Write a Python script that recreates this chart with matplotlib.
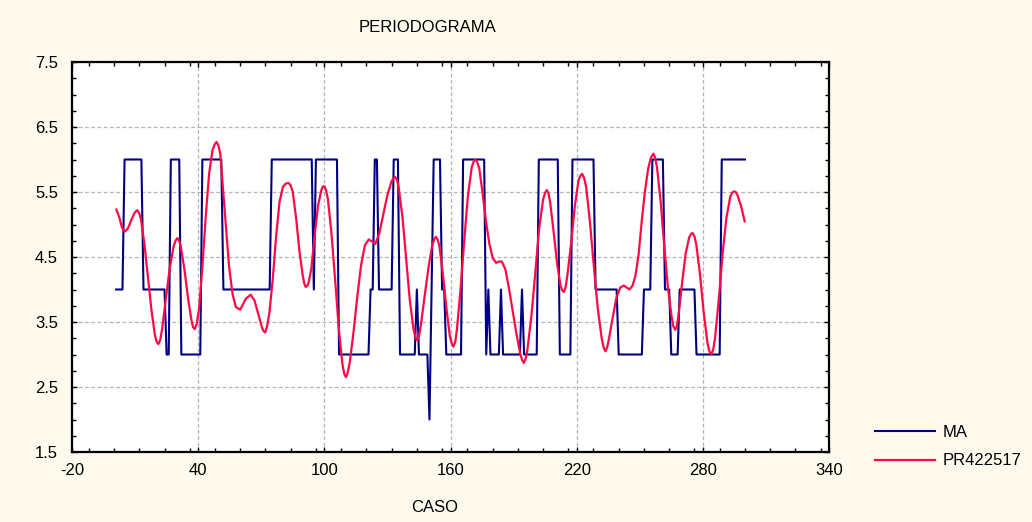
import numpy as np
import matplotlib
matplotlib.use("Agg")
import matplotlib.pyplot as plt
from matplotlib.ticker import MultipleLocator, FixedLocator

plt.rcParams["font.family"] = ["Liberation Sans", "DejaVu Sans"]
plt.rcParams["font.size"] = 12

# MA series: run-length encoded values per case (cases 1..300)
ma_levels = [4, 6, 4, 3, 6, 3, 6, 4, 6, 4, 6, 3, 4, 6, 4, 6, 3, 4, 3, 2, 4, 6, 4, 3,
             6, 3, 4, 3, 4, 3, 4, 3, 6, 3, 6, 4, 3, 4, 6, 4, 3, 4, 3, 6]
ma_counts = [4, 9, 11, 2, 5, 10, 10, 23, 20, 1, 11, 15, 2, 2, 7, 3, 8, 1, 5, 1, 1, 4, 2, 8,
             11, 1, 1, 5, 1, 9, 1, 7, 10, 6, 11, 11, 12, 4, 6, 3, 4, 8, 12, 12]

# PR422517 series: case positions and values
pr_case = [1.1, 2.4, 3.8, 5.1, 6.6, 8.1, 9.6, 10.3, 11.1, 11.9, 12.8, 14.4, 16.1, 17.8,
           19.4, 20.3, 21.1, 22.0, 22.9, 24.7, 26.5, 28.3, 29.2, 30.1, 31.0, 31.8, 33.5,
           35.2, 36.9, 37.6, 38.4, 39.4, 40.5, 42.0, 43.6, 45.2, 46.8, 47.8, 48.7, 49.6,
           50.5, 51.6, 53.2, 54.7, 56.3, 57.9, 60.0, 62.7, 65.0, 66.8, 68.6, 70.4, 71.1,
           71.9, 72.8, 73.9, 75.5, 77.1, 78.7, 80.3, 81.7, 83.0, 84.0, 85.0, 86.6, 88.2,
           89.7, 90.4, 91.1, 91.8, 92.5, 93.8, 95.4, 97.0, 98.5, 99.2, 100.0, 100.8,
           101.7, 103.4, 105.2, 106.9, 108.6, 109.5, 110.3, 111.1, 112.1, 113.9, 115.7,
           117.5, 119.3, 121.1, 122.6, 124.2, 126.1, 128.0, 129.9, 131.8, 132.8, 133.7,
           134.6, 135.4, 137.2, 138.9, 140.6, 142.4, 143.3, 144.1, 145.0, 145.9, 147.7,
           149.5, 151.3, 152.2, 153.1, 154.0, 154.8, 156.4, 158.1, 159.7, 160.6, 161.4,
           162.3, 163.1, 164.9, 166.6, 168.3, 170.1, 171.0, 171.8, 172.7, 173.7, 175.3,
           176.9, 178.5, 180.1, 181.7, 183.0, 184.4, 186.1, 187.9, 189.6, 191.3, 193.1,
           194.0, 194.8, 195.7, 196.6, 198.5, 200.3, 202.1, 204.0, 205.0, 205.8, 206.6,
           207.4, 209.0, 210.7, 212.3, 213.1, 213.9, 214.7, 215.6, 217.4, 219.1, 220.9,
           221.8, 222.6, 223.5, 224.5, 226.3, 228.2, 230.0, 231.9, 232.8, 233.7, 234.5,
           235.4, 237.2, 238.9, 240.7, 242.4, 243.8, 245.1, 246.6, 248.0, 249.5, 251.0,
           252.5, 254.0, 255.3, 256.5, 257.3, 258.2, 260.0, 261.7, 263.4, 265.2, 266.0,
           266.9, 267.7, 268.5, 270.2, 271.8, 273.5, 274.3, 275.1, 276.0, 276.9, 278.7,
           280.4, 282.2, 283.1, 284.0, 284.9, 285.8, 287.6, 289.4, 291.2, 293.0, 293.9,
           294.8, 295.6, 296.5, 298.2, 299.9]
pr_value = [5.23, 5.12, 4.95, 4.89, 4.94, 5.06, 5.17, 5.20, 5.22, 5.18, 5.08, 4.71, 4.19, 3.68,
            3.30, 3.19, 3.16, 3.23, 3.40, 3.88, 4.33, 4.66, 4.75, 4.79, 4.75, 4.65, 4.30,
            3.86, 3.51, 3.42, 3.39, 3.48, 3.73, 4.35, 5.12, 5.78, 6.14, 6.23, 6.27, 6.22,
            6.09, 5.63, 4.96, 4.35, 3.94, 3.73, 3.69, 3.86, 3.92, 3.83, 3.62, 3.41, 3.36,
            3.34, 3.44, 3.65, 4.17, 4.83, 5.35, 5.58, 5.63, 5.64, 5.60, 5.50, 5.09, 4.58,
            4.22, 4.10, 4.04, 4.05, 4.10, 4.32, 4.83, 5.29, 5.52, 5.58, 5.59, 5.53,
            5.39, 4.86, 4.12, 3.39, 2.85, 2.70, 2.65, 2.72, 2.88, 3.35, 3.90,
            4.38, 4.68, 4.77, 4.74, 4.70, 4.86, 5.15, 5.44, 5.65, 5.71, 5.73,
            5.68, 5.56, 5.10, 4.48, 3.85, 3.39, 3.27, 3.22, 3.28, 3.45, 3.90,
            4.33, 4.68, 4.77, 4.81, 4.76, 4.65, 4.23, 3.70, 3.28, 3.17, 3.12,
            3.20, 3.40, 4.05, 4.78, 5.45, 5.88, 5.97, 6.00, 5.96, 5.86, 5.47,
            5.04, 4.70, 4.48, 4.41, 4.43, 4.43, 4.31, 4.00, 3.66, 3.33, 3.02,
            2.92, 2.87, 2.93, 3.08, 3.60, 4.25, 4.92, 5.38, 5.49, 5.53, 5.48,
            5.34, 4.90, 4.40, 4.06, 3.99, 3.96, 4.03, 4.22, 4.72, 5.28, 5.68,
            5.75, 5.78, 5.72, 5.58, 5.04, 4.35, 3.72, 3.25, 3.11, 3.05, 3.11,
            3.25, 3.58, 3.87, 4.03, 4.06, 4.03, 4.00, 4.06, 4.22, 4.55, 5.07,
            5.52, 5.86, 6.03, 6.09, 6.03, 5.88, 5.33, 4.65, 4.03, 3.57, 3.43,
            3.38, 3.45, 3.62, 4.12, 4.55, 4.80, 4.85, 4.87, 4.82, 4.69, 4.22,
            3.65, 3.18, 3.05, 3.00, 3.07, 3.25, 3.85, 4.55, 5.10, 5.42, 5.49,
            5.51, 5.50, 5.45, 5.28, 5.05]

x_ticks = [-20, 40, 100, 160, 220, 280, 340]
y_ticks = [1.5, 2.5, 3.5, 4.5, 5.5, 6.5, 7.5]

ma_case = np.arange(1, sum(ma_counts) + 1)
ma_value = np.repeat(ma_levels, ma_counts)

W, H = 1032, 522
fig = plt.figure(figsize=(W / 100, H / 100), dpi=100, facecolor="#FDF9EC")
ax = fig.add_axes([72 / W, 1 - 452 / H, (829 - 72) / W, (452 - 62) / H])
ax.set_facecolor("white")

ax.plot(ma_case, ma_value, color="#000080", lw=1.5, label="MA", zorder=3)
ax.plot(pr_case, pr_value, color="#FF0A46", lw=1.6, label="PR422517", zorder=4)

ax.set_xlim(-20, 340)
ax.set_ylim(1.5, 7.5)
ax.xaxis.set_major_locator(FixedLocator(x_ticks))
ax.yaxis.set_major_locator(FixedLocator(y_ticks))
ax.xaxis.set_minor_locator(MultipleLocator(12))
ax.yaxis.set_minor_locator(MultipleLocator(0.25))
ax.set_xticklabels([str(t) for t in x_ticks])
ax.set_yticklabels([f"{t:.1f}" for t in y_ticks])

ax.grid(True, which="major", color="#B4B4B4", linestyle=(0, (3, 2)), linewidth=0.9, zorder=1)
ax.tick_params(which="both", direction="in", top=True, right=True, color="black", width=1.0)
ax.tick_params(which="major", length=3.5)
ax.tick_params(which="minor", length=3)
ax.tick_params(axis="x", which="major", pad=8)
ax.tick_params(axis="y", which="major", pad=10)
for s in ax.spines.values():
    s.set_linewidth(1.6)
    s.set_color("black")

fig.text(428 / W, 1 - 28 / H, "PERIODOGRAMA", ha="center", va="center")
fig.text(435 / W, 1 - 507 / H, "CASO", ha="center", va="center")

fig.legend(loc="upper left", bbox_to_anchor=(875 / W, 1 - 425 / H), frameon=False,
           handlelength=3.6, handletextpad=0.45, labelspacing=0.8, borderpad=0,
           borderaxespad=0)

fig.savefig("out.png", dpi=100, facecolor=fig.get_facecolor())
